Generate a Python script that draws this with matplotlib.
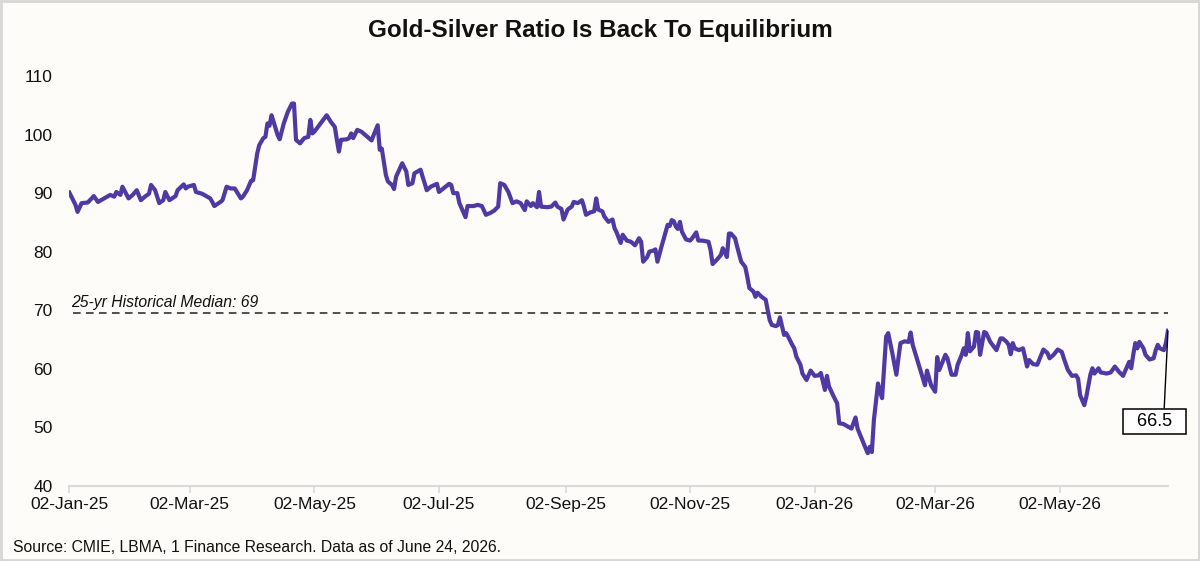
import numpy as np
import pandas as pd
import matplotlib
matplotlib.use("Agg")
import matplotlib.pyplot as plt
import matplotlib.dates as mdates
from matplotlib.patches import Rectangle

plt.rcParams['font.family'] = ['Liberation Sans', 'DejaVu Sans']

# Datos (días desde 02-Jan-25, ratio oro/plata)
start_date = "2025-01-02"
end_date = "2026-06-24"
day_offset = [
    0, 3, 4, 6, 9, 12, 14, 17, 20, 22, 23, 25, 26, 29, 31, 33, 35, 37, 39, 40,
    42, 44, 46, 47, 49, 52, 53, 56, 57, 58, 61, 62, 65, 67, 69, 70, 71, 74, 75, 77,
    79, 81, 84, 85, 87, 89, 90, 92, 93, 95, 96, 97, 98, 99, 100, 102, 103, 105, 107, 109,
    110, 111, 113, 115, 117, 118, 119, 120, 123, 126, 128, 130, 131, 132, 133, 136, 137, 138, 139, 141,
    143, 146, 148, 149, 151, 152, 153, 155, 156, 158, 159, 160, 163, 165, 166, 168, 169, 172, 173, 174,
    175, 177, 180, 181, 186, 187, 188, 190, 191, 194, 195, 198, 200, 202, 204, 206, 208, 210, 211, 213,
    215, 217, 219, 221, 223, 224, 226, 227, 229, 230, 231, 234, 236, 238, 239, 241, 242, 244, 246, 247,
    249, 251, 252, 253, 255, 257, 258, 259, 261, 262, 264, 266, 267, 268, 270, 271, 273, 275, 277, 279,
    280, 281, 283, 284, 286, 287, 288, 290, 292, 293, 294, 295, 296, 297, 298, 299, 300, 302, 304, 305,
    307, 308, 310, 313, 314, 315, 317, 319, 320, 322, 323, 324, 326, 327, 329, 331, 332, 333, 335, 336,
    337, 339, 341, 342, 343, 344, 346, 347, 348, 350, 351, 352, 354, 355, 356, 358, 359, 361, 363, 365,
    367, 368, 370, 371, 372, 374, 376, 377, 379, 380, 383, 385, 386, 388, 390, 391, 392, 393, 394, 396,
    397, 398, 400, 401, 403, 405, 406, 407, 409, 411, 412, 413, 415, 417, 419, 420, 422, 424, 425, 426,
    429, 430, 432, 434, 435, 437, 438, 439, 440, 441, 443, 444, 445, 446, 448, 449, 451, 454, 456, 457,
    459, 460, 461, 462, 463, 465, 467, 468, 469, 470, 472, 474, 477, 479, 480, 482, 484, 486, 487, 489,
    491, 493, 494, 495, 497, 498, 500, 501, 502, 504, 505, 508, 510, 512, 514, 516, 518, 519, 520, 521,
    522, 523, 524, 526, 527, 529, 531, 532, 533, 534, 536, 537, 538,
]
ratio = [
    90.1, 88.0, 86.8, 88.3, 88.4, 89.5, 88.5, 89.1, 89.7, 89.4, 90.2, 89.7, 91.1, 89.1, 89.7, 90.5, 88.8, 89.4, 89.9, 91.4,
    90.5, 88.3, 88.8, 90.2, 88.8, 89.5, 90.5, 91.5, 90.8, 91.1, 91.4, 90.2, 89.9, 89.5, 89.1, 88.5, 87.8, 88.5, 88.8, 91.1,
    90.8, 90.8, 89.1, 89.4, 90.5, 92.1, 92.2, 96.8, 98.2, 99.4, 99.6, 101.9, 101.5, 103.3, 102.2, 99.9, 99.2, 101.9, 103.9, 105.3,
    105.3, 99.1, 98.5, 99.4, 99.6, 102.5, 100.2, 100.5, 101.9, 103.3, 102.2, 101.3, 99.1, 97.1, 99.1, 99.2, 99.4, 100.2, 99.4, 100.8,
    100.5, 99.6, 99.0, 99.9, 101.6, 97.4, 97.6, 93.1, 92.0, 91.4, 90.7, 92.8, 95.1, 93.7, 91.4, 91.7, 93.4, 94.0, 92.8, 91.7,
    90.5, 91.1, 91.6, 90.2, 91.6, 91.4, 90.0, 90.0, 88.3, 85.9, 87.8, 87.8, 88.0, 87.8, 86.3, 86.6, 87.0, 87.7, 91.7, 91.4,
    90.2, 88.3, 88.6, 88.3, 87.1, 88.6, 87.8, 88.3, 87.6, 90.2, 87.7, 87.6, 87.7, 88.4, 87.7, 87.3, 85.5, 87.2, 87.7, 88.5,
    88.3, 88.8, 87.7, 86.3, 86.7, 86.9, 89.1, 87.2, 86.9, 86.0, 85.1, 85.5, 84.0, 83.3, 81.5, 82.9, 81.9, 81.7, 81.1, 82.3,
    81.7, 78.3, 79.1, 80.0, 80.2, 80.4, 78.3, 80.9, 83.4, 84.6, 84.4, 85.4, 85.2, 84.3, 83.9, 85.1, 83.4, 82.1, 81.9, 82.3,
    83.3, 81.9, 81.9, 81.7, 80.3, 77.9, 78.6, 79.4, 80.6, 79.1, 83.1, 83.1, 82.3, 80.9, 78.3, 77.4, 75.7, 73.8, 73.2, 72.3,
    73.0, 72.3, 71.8, 70.0, 68.3, 67.5, 67.3, 67.5, 68.8, 65.8, 66.1, 65.5, 64.1, 63.5, 62.1, 60.7, 59.2, 58.1, 59.7, 58.8,
    58.9, 59.3, 56.4, 58.8, 57.0, 55.5, 54.1, 50.7, 50.6, 50.4, 49.8, 51.7, 49.8, 48.1, 46.4, 45.6, 46.7, 45.8, 51.3, 57.5,
    56.1, 55.0, 65.5, 66.1, 62.7, 59.0, 61.8, 64.4, 64.7, 64.6, 66.2, 64.1, 61.8, 59.5, 57.2, 59.7, 57.2, 56.1, 62.0, 59.8,
    62.4, 61.8, 59.0, 59.0, 60.7, 62.4, 63.5, 62.4, 66.1, 63.0, 63.8, 66.3, 66.2, 62.4, 66.3, 66.1, 64.6, 63.2, 65.2, 65.2,
    64.6, 64.1, 62.5, 64.4, 63.5, 63.2, 63.5, 62.0, 60.4, 61.5, 60.8, 60.7, 63.3, 62.7, 61.8, 62.4, 63.3, 62.9, 61.8, 59.8,
    58.8, 58.9, 58.3, 55.5, 53.8, 55.2, 59.0, 60.1, 59.2, 60.1, 59.4, 59.2, 59.4, 60.4, 59.5, 58.8, 60.4, 61.2, 60.1, 62.4,
    64.4, 63.5, 64.6, 63.5, 62.4, 61.6, 61.8, 63.2, 64.1, 63.5, 63.2, 64.4, 66.5,
]
median_value = 69.6
median_label = "25-yr Historical Median: 69"
last_label = "66.5"
tick_dates = ["2025-01-02", "2025-03-02", "2025-05-02", "2025-07-02", "2025-09-02",
              "2025-11-02", "2026-01-02", "2026-03-02", "2026-05-02"]
y_ticks = [40, 50, 60, 70, 80, 90, 100, 110]

dates = pd.Timestamp(start_date) + pd.to_timedelta(day_offset, unit="D")
bg = "#FDFCF8"

fig = plt.figure(figsize=(12, 5.61), dpi=100, facecolor=bg)
fig.patches.append(Rectangle((0.001, 0.002), 0.998, 0.996, transform=fig.transFigure,
                             fill=False, edgecolor="#D6D6D6", lw=2))
ax = fig.add_axes([0.0578, 0.1337, 0.9155, 0.7308])
ax.set_facecolor(bg)

ax.plot(dates, ratio, color="#5039A2", lw=3.0, solid_joinstyle="round", zorder=3)
ax.axhline(median_value, xmin=0.003, xmax=1.0, color="#222222", lw=1.1,
           dashes=(5, 3.5), zorder=2)
ax.text(pd.Timestamp(start_date) + pd.Timedelta(days=1), median_value + 0.5, median_label,
        style="italic", fontsize=11.3, color="#111111", ha="left", va="bottom")

ann = ax.annotate("  " + last_label + "  ", xy=(dates[-1], ratio[-1]), xytext=(-10, -65),
                  textcoords="offset points", ha="center", va="center", fontsize=13,
                  bbox=dict(boxstyle="square,pad=0.22", fc="white", ec="black", lw=1.1),
                  arrowprops=dict(arrowstyle="-", color="black", lw=1.0, relpos=(0.68, 1.0),
                                  shrinkA=0, shrinkB=0),
                  annotation_clip=False)

ax.set_xlim(pd.Timestamp(start_date), pd.Timestamp(end_date))
ax.set_ylim(40, 110)
ax.set_yticks(y_ticks)
ax.set_xticks(pd.to_datetime(tick_dates))
ax.xaxis.set_major_formatter(mdates.DateFormatter("%d-%b-%y"))

for side in ["top", "right", "left"]:
    ax.spines[side].set_visible(False)
ax.spines["bottom"].set_color("#D9D9D9")
ax.spines["bottom"].set_linewidth(1.5)
ax.tick_params(axis="y", length=0, pad=12, labelsize=12.5, labelcolor="#111111")
ax.tick_params(axis="x", length=5, width=1.2, color="#D9D9D9", pad=3,
               labelsize=12.5, labelcolor="#111111")

fig.text(0.5, 0.945, "Gold-Silver Ratio Is Back To Equilibrium", ha="center", va="center",
         fontsize=17.5, fontweight="bold", color="#111111")
fig.text(0.011, 0.024, "Source: CMIE, LBMA, 1 Finance Research. Data as of June 24, 2026.",
         ha="left", va="center", fontsize=11.3, color="#111111")

fig.savefig("out.png", dpi=100, facecolor=bg)
